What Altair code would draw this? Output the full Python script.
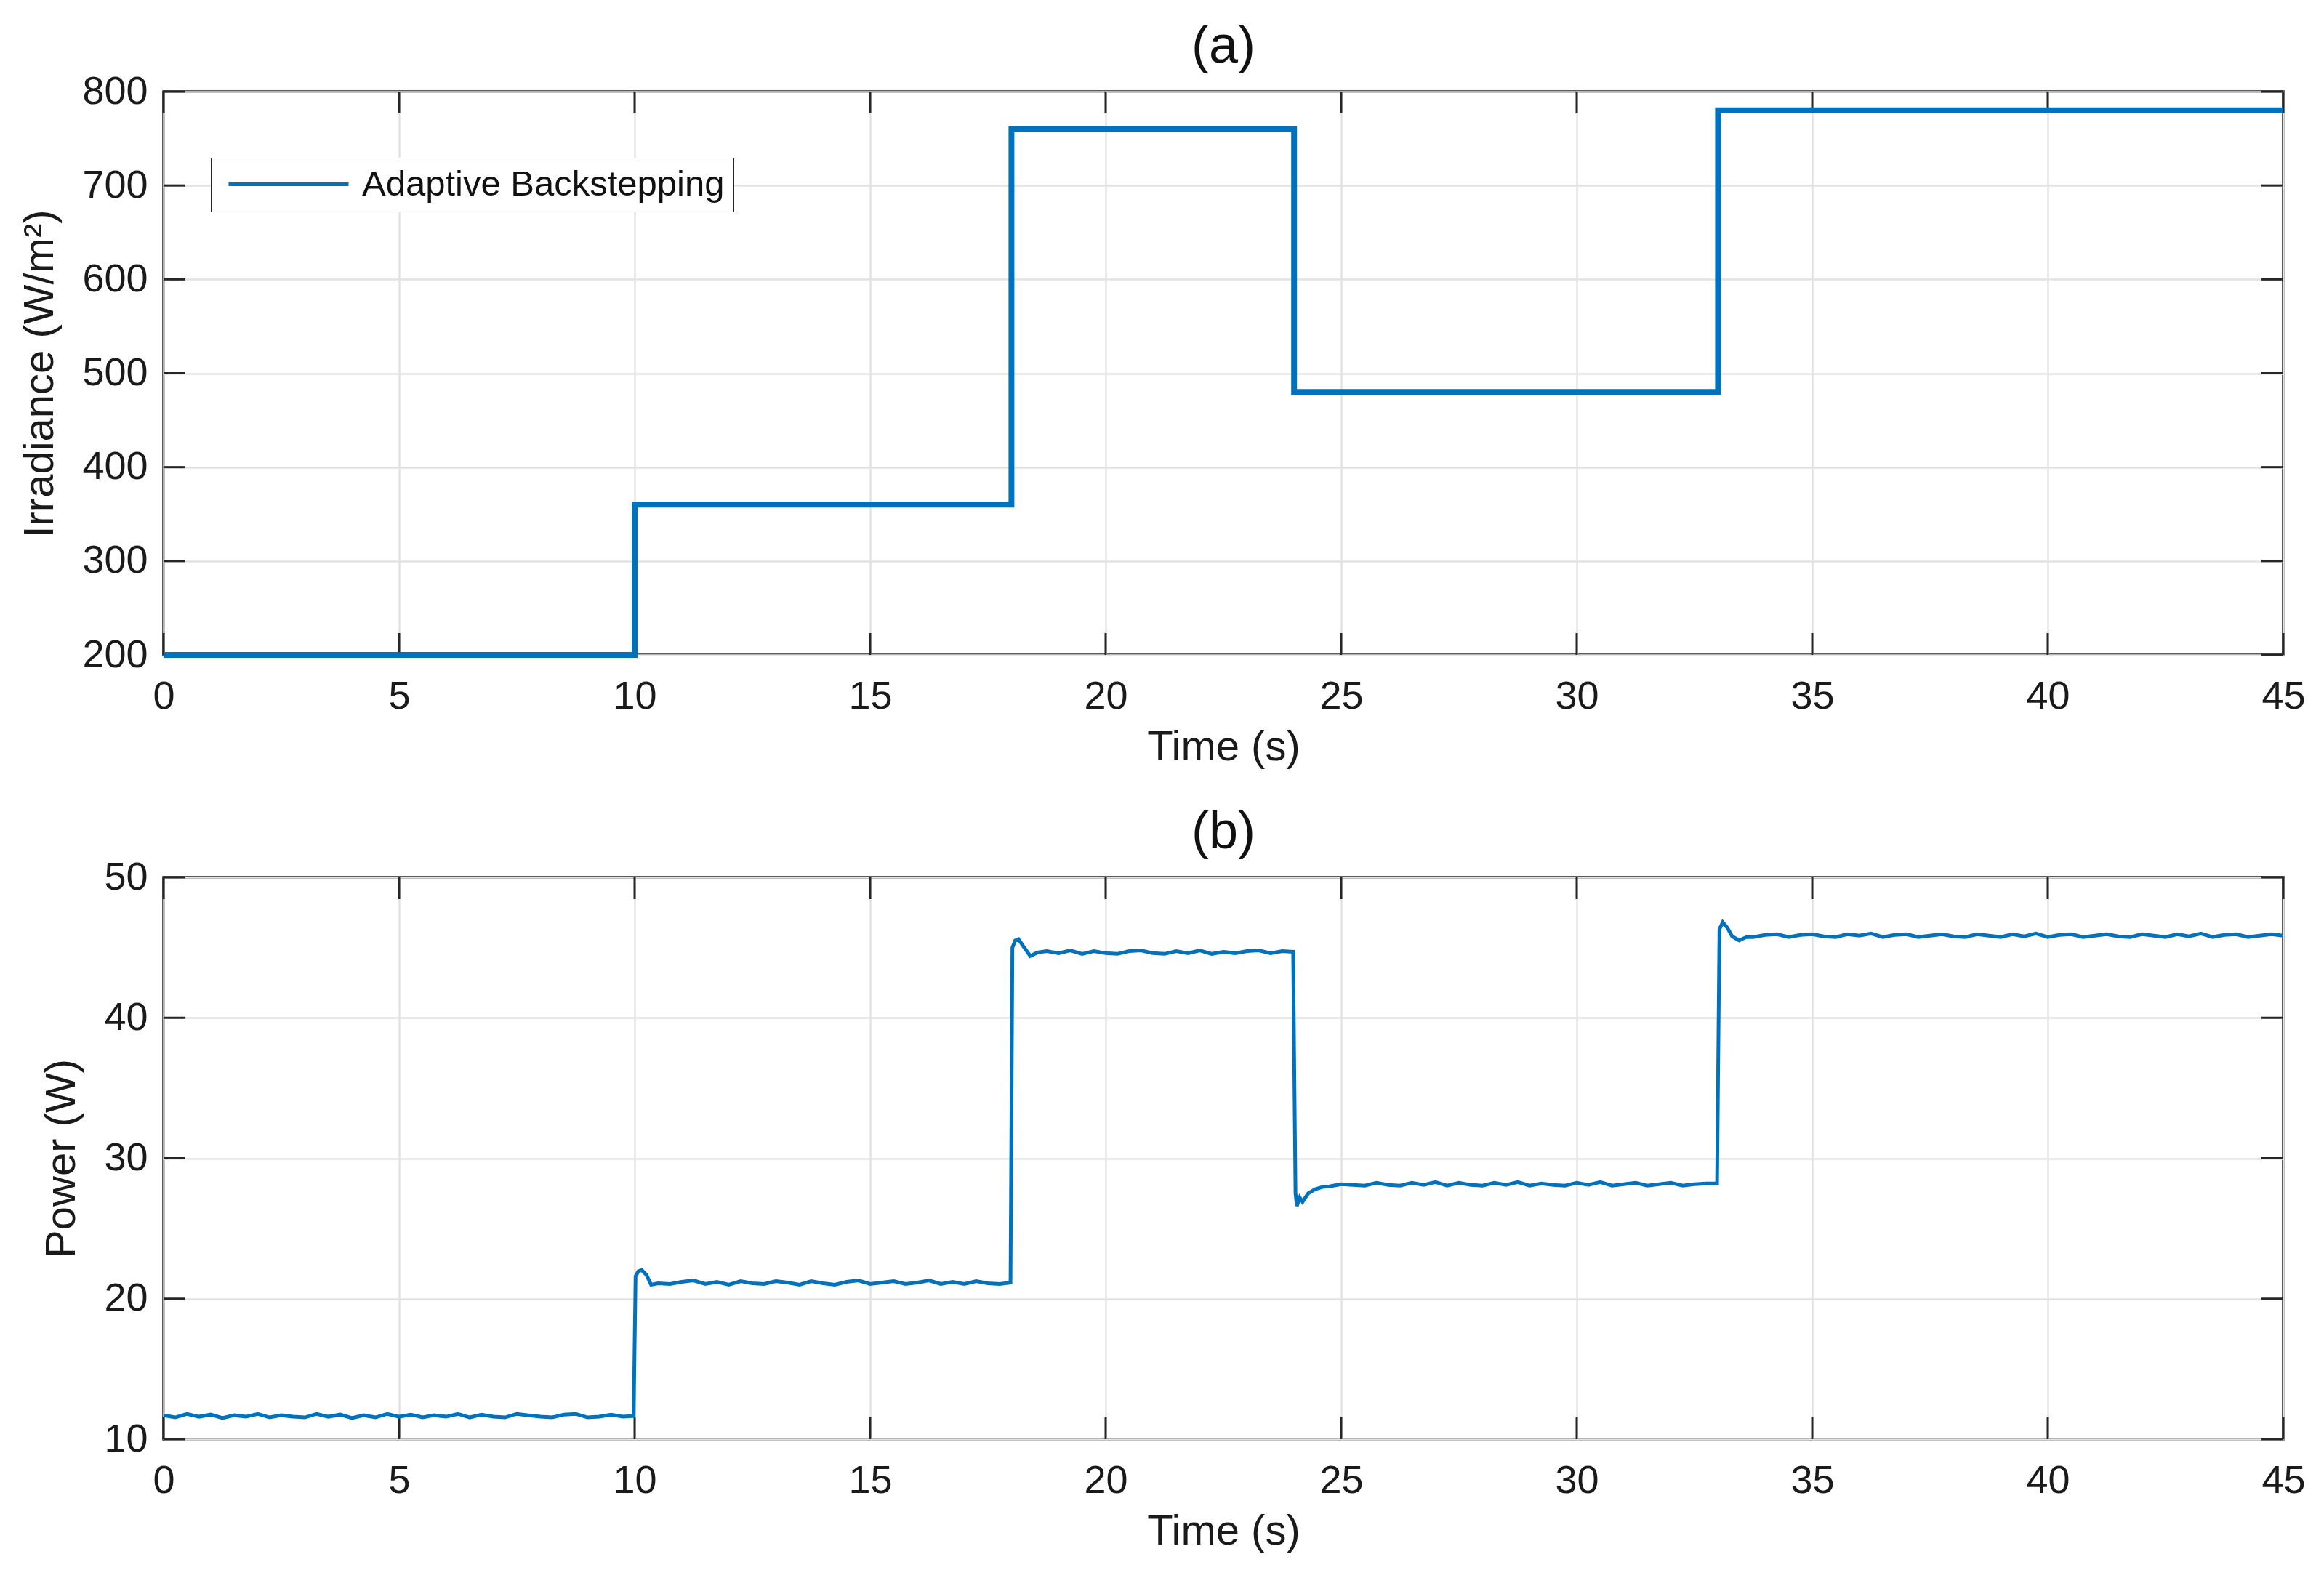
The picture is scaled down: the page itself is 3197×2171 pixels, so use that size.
import altair as alt
import pandas as pd

# ---------------- data ----------------
# (a) irradiance step profile (step-after)
irr_time = [0, 10, 18, 24, 33, 45]
irr_value = [200, 360, 760, 480, 780, 780]
series_name = "Adaptive Backstepping"

# (b) power: steady-state samples every 0.25 s
seg1_start, seg1_vals = 0.0, [11.7, 11.55, 11.8, 11.6, 11.75, 11.5, 11.7, 11.6, 11.8, 11.55,
                              11.7, 11.6, 11.55, 11.8, 11.6, 11.75, 11.5, 11.7, 11.55, 11.8,
                              11.6, 11.75, 11.55, 11.7, 11.6, 11.8, 11.55, 11.75, 11.6, 11.55,
                              11.8, 11.7, 11.6, 11.55, 11.75, 11.8, 11.55, 11.6, 11.75, 11.6]
seg2_start, seg2_vals = 10.75, [21.05, 21.2, 21.3, 21.05, 21.2, 21.0, 21.25, 21.1, 21.05, 21.25,
                                21.15, 21.0, 21.25, 21.1, 21.0, 21.2, 21.3, 21.05, 21.15, 21.25,
                                21.05, 21.15, 21.3, 21.05, 21.2, 21.05, 21.25, 21.1, 21.05]
seg3_start, seg3_vals = 18.75, [44.75, 44.6, 44.8, 44.55, 44.75, 44.6, 44.55, 44.75, 44.8, 44.6,
                                44.55, 44.75, 44.6, 44.8, 44.55, 44.7, 44.6, 44.75, 44.8, 44.6, 44.75]
seg4_start, seg4_vals = 24.75, [28.0, 28.15, 28.1, 28.05, 28.25, 28.1, 28.05, 28.25, 28.1, 28.3,
                                28.05, 28.25, 28.1, 28.05, 28.25, 28.1, 28.3, 28.05, 28.2, 28.1,
                                28.05, 28.25, 28.1, 28.3, 28.05, 28.15, 28.25, 28.05, 28.15, 28.25,
                                28.05, 28.15, 28.2]
seg5_start, seg5_vals = 33.75, [45.75, 45.9, 45.95, 45.75, 45.9, 45.95, 45.8, 45.75, 45.95, 45.85,
                                46.0, 45.75, 45.9, 45.95, 45.75, 45.85, 45.95, 45.8, 45.75, 45.95,
                                45.85, 45.75, 45.95, 45.8, 46.0, 45.75, 45.9, 45.95, 45.75, 45.85,
                                45.95, 45.8, 45.75, 45.95, 45.85, 45.75, 45.95, 45.8, 46.0, 45.75,
                                45.9, 45.95, 45.75, 45.85, 45.95, 45.85]
# transients around each irradiance step (time, power)
trans_time = [9.98, 10.02, 10.08, 10.15, 10.25, 10.35, 10.5,
              17.98, 18.02, 18.08, 18.15, 18.25, 18.4, 18.55,
              23.98, 24.03, 24.06, 24.12, 24.18, 24.3, 24.45, 24.6,
              32.98, 33.03, 33.1, 33.2, 33.3, 33.45, 33.6]
trans_power = [11.65, 21.6, 21.95, 22.05, 21.7, 21.0, 21.1,
               21.15, 45.0, 45.5, 45.6, 45.1, 44.4, 44.65,
               44.7, 27.5, 26.6, 27.2, 26.9, 27.5, 27.8, 27.95,
               28.2, 46.3, 46.8, 46.4, 45.8, 45.5, 45.75]

x_ticks = [0, 5, 10, 15, 20, 25, 30, 35, 40, 45]
irr_ticks = [200, 300, 400, 500, 600, 700, 800]
pow_ticks = [10, 20, 30, 40, 50]

# ---------------- tables ----------------
irr_df = pd.DataFrame({"t": irr_time, "v": irr_value, "s": series_name})

rows = []
for start, vals in [(seg1_start, seg1_vals), (seg2_start, seg2_vals), (seg3_start, seg3_vals),
                    (seg4_start, seg4_vals), (seg5_start, seg5_vals)]:
    for i, v in enumerate(vals):
        rows.append((round(start + 0.25 * i, 3), v))
rows += list(zip(trans_time, trans_power))
pow_df = pd.DataFrame(rows, columns=["t", "p"]).sort_values("t").reset_index(drop=True)
pow_df["i"] = range(len(pow_df))

xt_df = pd.DataFrame({"t": x_ticks})
it_df = pd.DataFrame({"v": irr_ticks})
pt_df = pd.DataFrame({"v": pow_ticks})

# ---------------- layout ----------------
W, H1, H2 = 2916, 775, 773
TICK = 30
BLUE = "#0072BD"
DARK = "#262626"
FONT = "Liberation Sans"

x_scale = alt.Scale(domain=[0, 45], nice=False, zero=False)
x_axis = alt.Axis(values=x_ticks, title="Time (s)", labelFlush=False, format="d")


def tick_layers(ydf, yscale, h):
    base_x = alt.Chart(xt_df).mark_rule(color=DARK, strokeWidth=3)
    xb = base_x.encode(x=alt.X("t:Q", scale=x_scale, axis=x_axis), y=alt.value(h), y2=alt.value(h - TICK))
    xtop = base_x.encode(x=alt.X("t:Q", scale=x_scale), y=alt.value(0), y2=alt.value(TICK))
    base_y = alt.Chart(ydf).mark_rule(color=DARK, strokeWidth=3)
    yl = base_y.encode(y=alt.Y("v:Q", scale=yscale), x=alt.value(0), x2=alt.value(TICK))
    yr = base_y.encode(y=alt.Y("v:Q", scale=yscale), x=alt.value(W), x2=alt.value(W - TICK))
    return [xb, xtop, yl, yr]


irr_scale = alt.Scale(domain=[200, 800], nice=False, zero=False)
top_line = alt.Chart(irr_df).mark_line(
    interpolate="step-after", strokeWidth=8, strokeJoin="miter", strokeCap="butt"
).encode(
    x=alt.X("t:Q", scale=x_scale, axis=x_axis),
    y=alt.Y("v:Q", scale=irr_scale,
            axis=alt.Axis(values=irr_ticks, title="Irradiance (W/m²)", labelFlush=False)),
    color=alt.Color("s:N", scale=alt.Scale(range=[BLUE]),
                    legend=alt.Legend(title=None, orient="none", legendX=65, legendY=91,
                                      symbolType="M-1,0H7.25", symbolSize=1600, symbolStrokeWidth=5,
                                      symbolOffset=8,
                                      labelFontSize=49, labelFont=FONT, labelColor="#111111",
                                      labelOffset=139, labelLimit=2000, padding=12,
                                      strokeColor=DARK, fillColor="white")),
)
top = alt.layer(*tick_layers(it_df, irr_scale, H1), top_line).properties(
    width=W, height=H1, title="(a)")

pow_scale = alt.Scale(domain=[10, 50], nice=False, zero=False)
bot_line = alt.Chart(pow_df).mark_line(strokeWidth=5, color=BLUE, clip=True).encode(
    x=alt.X("t:Q", scale=x_scale, axis=x_axis),
    y=alt.Y("p:Q", scale=pow_scale,
            axis=alt.Axis(values=pow_ticks, title="Power (W)", labelFlush=False)),
    order="i:Q",
)
bottom = alt.layer(*tick_layers(pt_df, pow_scale, H2), bot_line).properties(
    width=W, height=H2, title="(b)")

chart = alt.vconcat(top, bottom, spacing=48).properties(
    padding={"left": 17, "top": 18, "right": 10, "bottom": 5}
).configure(font=FONT).configure_view(
    stroke=DARK, strokeWidth=3.5
).configure_axis(
    labelFont=FONT, titleFont=FONT, labelFontSize=54, titleFontSize=58,
    labelColor="#1a1a1a", titleColor="#1a1a1a", titleFontWeight="normal",
    ticks=False, domain=False, gridColor="#e3e3e3", gridWidth=2.5,
).configure_axisX(labelPadding=30, titlePadding=14).configure_axisY(
    labelPadding=22, titlePadding=28
).configure_title(
    font=FONT, fontSize=72, fontWeight="normal", color="#111111", offset=-2
)

chart.save("out.html", embed_options={"renderer": "svg", "actions": False})
